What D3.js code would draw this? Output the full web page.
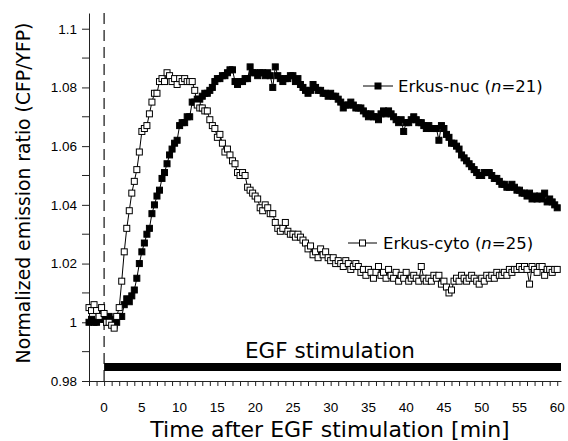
<!DOCTYPE html>
<html>
<head>
<meta charset="utf-8">
<script src="https://cdn.jsdelivr.net/npm/d3@7/dist/d3.min.js"></script>
<style>
  html, body { margin: 0; padding: 0; background: #fff; }
  svg { display: block; }
</style>
</head>
<body>
<svg id="chart"></svg>
<script>
// sampling: one frame every 20 s, starting 2 min before EGF
const startMin = -2;
const stepMin = 1 / 3;

// Erkus-nuc (n=21), one row per minute
const nucValues = [
  1.000, 1.001, 1.000,
  1.000, 1.002, 1.001,
  1.001, 1.000, 1.002,
  1.001, 0.999, 1.000,
  1.002, 1.002, 1.006,
  1.008, 1.007, 1.009,
  1.011, 1.015, 1.020,
  1.024, 1.027, 1.030,
  1.032, 1.037, 1.040,
  1.043, 1.045, 1.049,
  1.051, 1.054, 1.057,
  1.059, 1.061, 1.062,
  1.067, 1.068, 1.068,
  1.070, 1.070, 1.075,
  1.075, 1.076, 1.076,
  1.077, 1.078, 1.078,
  1.079, 1.080, 1.082,
  1.083, 1.083, 1.084,
  1.084, 1.085, 1.086,
  1.086, 1.082, 1.081,
  1.082, 1.082, 1.083,
  1.083, 1.087, 1.085,
  1.085, 1.084, 1.085,
  1.085, 1.084, 1.085,
  1.084, 1.080, 1.087,
  1.084, 1.083, 1.082,
  1.083, 1.083, 1.084,
  1.084, 1.082, 1.083,
  1.081, 1.080, 1.079,
  1.078, 1.079, 1.081,
  1.080, 1.079, 1.079,
  1.078, 1.078, 1.077,
  1.078, 1.077, 1.077,
  1.076, 1.075, 1.073,
  1.074, 1.074, 1.075,
  1.074, 1.073, 1.073,
  1.073, 1.072, 1.071,
  1.070, 1.071, 1.070,
  1.070, 1.069, 1.071,
  1.072, 1.071, 1.072,
  1.071, 1.070, 1.069,
  1.068, 1.069, 1.065,
  1.068, 1.068, 1.069,
  1.070, 1.069, 1.068,
  1.068, 1.067, 1.066,
  1.067, 1.066, 1.066,
  1.066, 1.062, 1.067,
  1.066, 1.064, 1.063,
  1.061, 1.061, 1.060,
  1.059, 1.057, 1.056,
  1.055, 1.054, 1.053,
  1.052, 1.051, 1.050,
  1.050, 1.051, 1.051,
  1.051, 1.050, 1.049,
  1.049, 1.048, 1.047,
  1.047, 1.046, 1.046,
  1.047, 1.046, 1.045,
  1.045, 1.044, 1.044,
  1.043, 1.044, 1.042,
  1.043, 1.042, 1.043,
  1.042, 1.044, 1.041,
  1.042, 1.041, 1.040,
  1.039
];

// Erkus-cyto (n=25)
const cytoValues = [
  1.005, 1.004, 1.006,
  1.004, 1.002, 1.005,
  1.003, 1.000, 1.000,
  0.999, 0.998, 1.002,
  1.005, 1.014, 1.024,
  1.032, 1.038, 1.044,
  1.048, 1.052, 1.058,
  1.065, 1.066, 1.067,
  1.071, 1.075, 1.078,
  1.078, 1.082, 1.083,
  1.082, 1.085, 1.084,
  1.082, 1.083, 1.081,
  1.083, 1.082, 1.083,
  1.082, 1.082, 1.082,
  1.079, 1.074, 1.073,
  1.073, 1.072, 1.072,
  1.069, 1.067, 1.066,
  1.063, 1.064, 1.061,
  1.058, 1.059, 1.057,
  1.055, 1.054, 1.051,
  1.050, 1.051, 1.050,
  1.046, 1.045, 1.044,
  1.043, 1.042, 1.039,
  1.038, 1.040, 1.039,
  1.037, 1.037, 1.034,
  1.032, 1.031, 1.032,
  1.034, 1.031, 1.030,
  1.030, 1.029, 1.030,
  1.029, 1.028, 1.027,
  1.025, 1.026, 1.023,
  1.024, 1.022, 1.025,
  1.023, 1.024, 1.022,
  1.021, 1.022, 1.020,
  1.021, 1.020, 1.019,
  1.021, 1.020, 1.018,
  1.019, 1.020, 1.019,
  1.017, 1.018, 1.016,
  1.018, 1.017, 1.015,
  1.017, 1.019, 1.016,
  1.017, 1.015, 1.018,
  1.016, 1.015, 1.017,
  1.014, 1.016, 1.015,
  1.017, 1.014, 1.015,
  1.016, 1.015, 1.014,
  1.019, 1.015, 1.014,
  1.015, 1.014, 1.016,
  1.015, 1.016, 1.013,
  1.014, 1.012, 1.010,
  1.011, 1.014, 1.015,
  1.014, 1.016, 1.015,
  1.014, 1.015, 1.016,
  1.015, 1.014, 1.013,
  1.015, 1.014, 1.016,
  1.015, 1.016, 1.015,
  1.017, 1.016, 1.016,
  1.017, 1.016, 1.018,
  1.017, 1.018, 1.018,
  1.019, 1.018, 1.019,
  1.018, 1.013, 1.019,
  1.018, 1.017, 1.019,
  1.019, 1.016, 1.018,
  1.018, 1.017, 1.018,
  1.018
];

const xTickValues = [0, 5, 10, 15, 20, 25, 30, 35, 40, 45, 50, 55, 60];
const yTickValues = [0.98, 1.0, 1.02, 1.04, 1.06, 1.08, 1.1];
const yTickLabels = ['0.98', '1', '1.02', '1.04', '1.06', '1.08', '1.1'];
const yMinorTicks = [0.99, 1.01, 1.03, 1.05, 1.07, 1.09];
const stimulation = { start: 0, end: 60.5, label: 'EGF stimulation' };
const seriesInfo = [
  { name: 'Erkus-nuc', n: 21, values: nucValues, fill: '#000' },
  { name: 'Erkus-cyto', n: 25, values: cytoValues, fill: '#fff' }
];

const W = 568, H = 441;
const plot = { left: 89, right: 561, top: 13, bottom: 381 };

const svg = d3.select('#chart').attr('width', W).attr('height', H);

const x = d3.scaleLinear().domain([-2, 60.5]).range([plot.left, plot.right]);
const y = d3.scaleLinear().domain([0.98, 1.10535]).range([plot.bottom, plot.top]);

const toPoints = vals => vals.map((v, i) => ({ t: startMin + i * stepMin, v: v }));

// x axis: a small tick every minute, labels every 5
svg.append('g')
  .attr('transform', `translate(0,${plot.bottom})`)
  .call(d3.axisBottom(x).tickValues(d3.range(-2, 61, 1)).tickSize(5).tickSizeOuter(0).tickFormat(''))
  .call(g => g.selectAll('line, path').attr('stroke', '#222'));

svg.append('g')
  .selectAll('text')
  .data(xTickValues)
  .join('text')
  .attr('x', d => x(d))
  .attr('y', 412)
  .attr('text-anchor', 'middle')
  .style('font-family', 'Liberation Sans, Arial, sans-serif')
  .style('font-size', '13.5px')
  .text(d => d);

// y axis
svg.append('g')
  .attr('transform', `translate(${plot.left},0)`)
  .call(d3.axisLeft(y).tickValues(yTickValues).tickSize(7).tickSizeOuter(0).tickPadding(5)
    .tickFormat((d, i) => yTickLabels[i]))
  .call(g => g.selectAll('line, path').attr('stroke', '#222'))
  .call(g => g.selectAll('text')
    .style('font-family', 'Liberation Sans, Arial, sans-serif')
    .style('font-size', '13.5px')
    .attr('fill', '#000'));

svg.append('g')
  .selectAll('line')
  .data(yMinorTicks)
  .join('line')
  .attr('x1', plot.left - 7)
  .attr('x2', plot.left)
  .attr('y1', d => y(d))
  .attr('y2', d => y(d))
  .attr('stroke', '#222');

// dashed line at EGF addition
svg.append('line')
  .attr('x1', x(0)).attr('x2', x(0))
  .attr('y1', plot.top).attr('y2', plot.bottom)
  .attr('stroke', '#111')
  .attr('stroke-width', 1.2)
  .attr('stroke-dasharray', '11,6');

// stimulation bar
svg.append('rect')
  .attr('x', x(stimulation.start))
  .attr('y', 363)
  .attr('width', x(stimulation.end) - x(stimulation.start))
  .attr('height', 8)
  .attr('fill', '#000');

svg.append('text')
  .attr('x', 330)
  .attr('y', 358)
  .attr('text-anchor', 'middle')
  .style('font-family', 'DejaVu Sans, sans-serif')
  .style('font-size', '21.5px')
  .text(stimulation.label);

// series: nuc first, cyto drawn on top
const line = d3.line().x(d => x(d.t)).y(d => y(d.v));
const sq = 6;

seriesInfo.forEach(s => {
  const pts = toPoints(s.values);
  const g = svg.append('g');
  g.append('path')
    .datum(pts)
    .attr('fill', 'none')
    .attr('stroke', '#000')
    .attr('stroke-width', 1)
    .attr('d', line);
  g.selectAll('rect')
    .data(pts)
    .join('rect')
    .attr('x', d => x(d.t) - sq / 2)
    .attr('y', d => y(d.v) - sq / 2)
    .attr('width', sq)
    .attr('height', sq)
    .attr('fill', s.fill)
    .attr('stroke', '#000')
    .attr('stroke-width', 1);
});

// legends, placed next to each curve
const legendPos = [
  { x1: 363, x2: 393, y: 86, tx: 398 },
  { x1: 348, x2: 377, y: 243, tx: 383 }
];
seriesInfo.forEach((s, i) => {
  const p = legendPos[i];
  const g = svg.append('g');
  g.append('line')
    .attr('x1', p.x1).attr('x2', p.x2)
    .attr('y1', p.y).attr('y2', p.y)
    .attr('stroke', '#000');
  g.append('rect')
    .attr('x', (p.x1 + p.x2) / 2 - sq / 2)
    .attr('y', p.y - sq / 2)
    .attr('width', sq).attr('height', sq)
    .attr('fill', s.fill)
    .attr('stroke', '#000');
  const t = g.append('text')
    .attr('x', p.tx)
    .attr('y', p.y + 6)
    .style('font-family', 'DejaVu Sans, sans-serif')
    .style('font-size', '16.5px');
  t.append('tspan').text(`${s.name} (`);
  t.append('tspan').style('font-style', 'italic').text('n');
  t.append('tspan').text(`=${s.n})`);
});

// axis titles
svg.append('text')
  .attr('x', 330)
  .attr('y', 437)
  .attr('text-anchor', 'middle')
  .style('font-family', 'DejaVu Sans, sans-serif')
  .style('font-size', '22px')
  .text('Time after EGF stimulation [min]');

svg.append('text')
  .attr('transform', 'translate(30,193) rotate(-90)')
  .attr('text-anchor', 'middle')
  .style('font-family', 'DejaVu Sans, sans-serif')
  .style('font-size', '18.8px')
  .text('Normalized emission ratio (CFP/YFP)');
</script>
</body>
</html>
